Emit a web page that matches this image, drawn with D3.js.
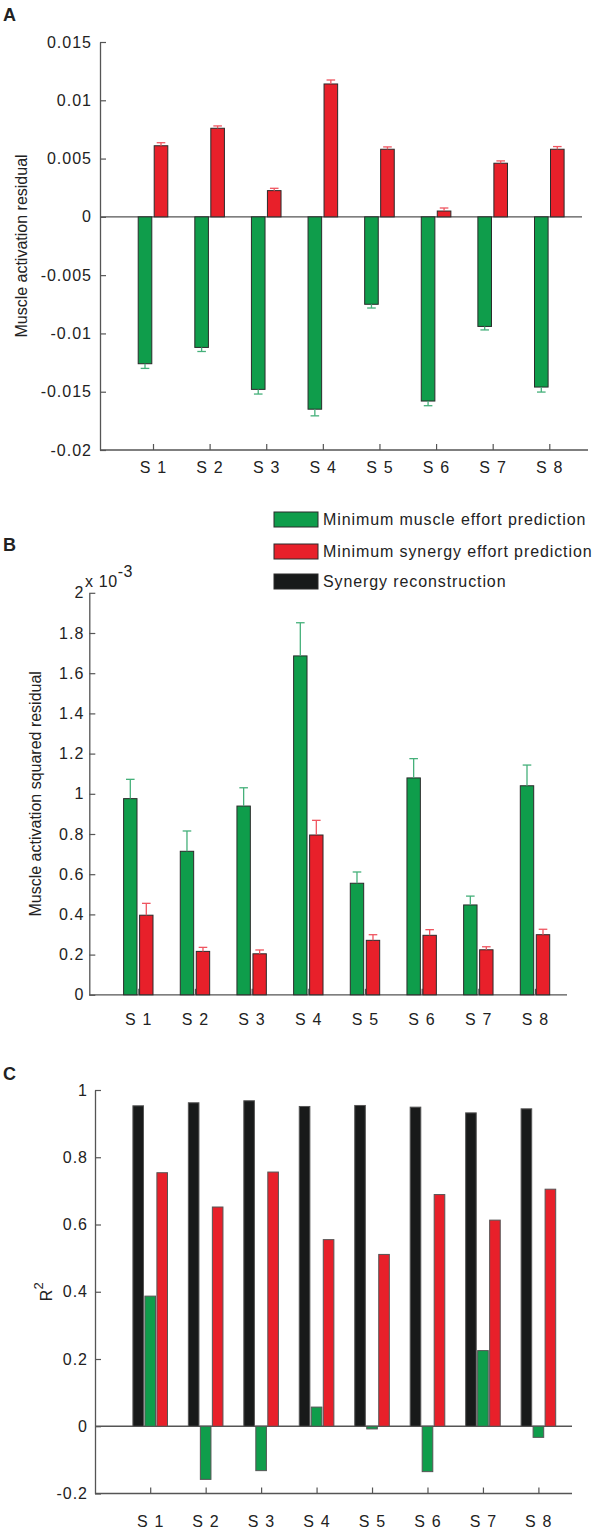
<!DOCTYPE html>
<html><head><meta charset="utf-8">
<script src="https://cdn.jsdelivr.net/npm/d3@7"></script>
<style>
body{margin:0;background:#fff}
svg{display:block}
text{font-family:Arial,"Liberation Sans",Helvetica,sans-serif;fill:#222}
</style>
</head><body>
<svg id="chart" width="596" height="1534"></svg>
<script>
// ---------- data ----------
const categories = ["S 1","S 2","S 3","S 4","S 5","S 6","S 7","S 8"];

// Panel A: muscle activation residual
const residualMuscle     = [-0.0126, -0.0112, -0.0148, -0.0165, -0.0075, -0.0158, -0.0094, -0.0146];
const residualMuscleErr  = [0.0004, 0.00035, 0.0004, 0.00057, 0.00032, 0.0004, 0.0003, 0.00043];
const residualSynergy    = [0.0061, 0.0076, 0.00225, 0.0114, 0.0058, 0.0005, 0.0046, 0.0058];
const residualSynergyErr = [0.00026, 0.0002, 0.0002, 0.00034, 0.0002, 0.00026, 0.0002, 0.00023];
const ticksA      = [-0.02, -0.015, -0.01, -0.005, 0, 0.005, 0.01, 0.015];
const tickLabelsA = ["-0.02","-0.015","-0.01","-0.005","0","0.005","0.01","0.015"];

// Panel B: muscle activation squared residual (units of 10^-3)
const sqMuscle     = [0.976, 0.714, 0.939, 1.686, 0.555, 1.079, 0.447, 1.040];
const sqMuscleErr  = [0.096, 0.101, 0.091, 0.165, 0.056, 0.096, 0.044, 0.103];
const sqSynergy    = [0.396, 0.216, 0.204, 0.795, 0.271, 0.296, 0.224, 0.299];
const sqSynergyErr = [0.059, 0.020, 0.019, 0.073, 0.028, 0.028, 0.015, 0.027];
const ticksB      = [0, 0.2, 0.4, 0.6, 0.8, 1, 1.2, 1.4, 1.6, 1.8, 2];
const tickLabelsB = ["0","0.2","0.4","0.6","0.8","1","1.2","1.4","1.6","1.8","2"];

// Panel C: R^2
const r2Reconstruction = [0.953, 0.962, 0.968, 0.951, 0.954, 0.949, 0.932, 0.944];
const r2Muscle         = [0.387, -0.158, -0.132, 0.057, -0.008, -0.135, 0.225, -0.033];
const r2Synergy        = [0.754, 0.652, 0.756, 0.555, 0.511, 0.689, 0.613, 0.705];
const ticksC      = [-0.2, 0, 0.2, 0.4, 0.6, 0.8, 1];
const tickLabelsC = ["-0.2","0","0.2","0.4","0.6","0.8","1"];

const legendLabels = ["Minimum muscle effort prediction","Minimum synergy effort prediction","Synergy reconstruction"];

// ---------- styles ----------
const GREEN = "#0f9d4b", RED = "#e8202a", BLACK = "#181a1a";
const GREEN_ERR = "#45b07a", RED_ERR = "#ef5560";
const AXIS = "#555";
const FONT = "Arial, 'Liberation Sans', sans-serif";
const svg = d3.select("#chart");

function panel(o) {
  const g = svg.append("g");
  const y = d3.scaleLinear().domain(o.yDomain).range([o.yBottom, o.yTop]);
  const x = d3.scalePoint().domain(categories).range([o.xFirst, o.xLast]);

  // bottom axis ticks (inward)
  const xa = g.append("g").attr("transform", `translate(0,${o.yBottom})`)
    .call(d3.axisBottom(x).tickSize(-6).tickPadding(o.xPad));
  xa.select(".domain").remove();
  xa.selectAll("line").attr("stroke", AXIS).attr("stroke-width", 1.2);
  xa.selectAll("text").attr("font-size", 16).attr("fill", "#222")
    .attr("letter-spacing", 1.2).style("font-family", FONT);
  g.append("line").attr("x1", o.x0).attr("x2", o.x1)
    .attr("y1", o.yBottom).attr("y2", o.yBottom)
    .attr("stroke", AXIS).attr("stroke-width", 1.3);

  // left axis
  const ya = g.append("g").attr("transform", `translate(${o.x0},0)`)
    .call(d3.axisLeft(y).tickValues(o.ticks).tickFormat((d, i) => o.tickLabels[i])
      .tickSize(-6).tickSizeOuter(0).tickPadding(o.yPad));
  ya.select(".domain").attr("stroke", AXIS).attr("stroke-width", 1.3);
  ya.selectAll("line").attr("stroke", AXIS).attr("stroke-width", 1.2);
  ya.selectAll("text").attr("font-size", 16).attr("fill", "#222")
    .attr("letter-spacing", 1).style("font-family", FONT);

  // zero baseline
  if (o.zeroLine) {
    g.append("line").attr("x1", o.x0).attr("x2", o.zeroEnd)
      .attr("y1", y(0)).attr("y2", y(0)).attr("stroke", AXIS).attr("stroke-width", 1.3);
  }

  // bars
  o.series.forEach(s => {
    const sg = g.append("g");
    sg.selectAll("rect").data(s.values).join("rect")
      .attr("x", (d, i) => x(categories[i]) + s.offset - o.barW / 2)
      .attr("width", o.barW)
      .attr("y", d => Math.min(y(d), y(0)))
      .attr("height", d => Math.abs(y(d) - y(0)))
      .attr("fill", s.color).attr("stroke", o.barStroke).attr("stroke-width", 1);
    if (s.err) {
      s.values.forEach((v, i) => {
        const cx = x(categories[i]) + s.offset;
        const end = v >= 0 ? v + s.err[i] : v - s.err[i];
        sg.append("line").attr("x1", cx).attr("x2", cx).attr("y1", y(v)).attr("y2", y(end))
          .attr("stroke", s.errColor).attr("stroke-width", 1.3);
        sg.append("line").attr("x1", cx - 4.3).attr("x2", cx + 4.3).attr("y1", y(end)).attr("y2", y(end))
          .attr("stroke", s.errColor).attr("stroke-width", 1.3);
      });
    }
  });

  // y label
  const lab = g.append("text")
    .attr("transform", `translate(${o.labelX},${(o.yTop + o.yBottom) / 2}) rotate(-90)`)
    .attr("text-anchor", "middle").attr("font-size", 16);
  if (o.label === "R2") {
    lab.append("tspan").text("R");
    lab.append("tspan").attr("dy", -9).attr("font-size", 13).text("2");
  } else lab.text(o.label);

  // panel letter
  svg.append("text").attr("x", 3).attr("y", o.letterY).attr("font-size", 18)
    .attr("font-weight", "bold").attr("fill", "#111").text(o.letter);
  return {x, y, g};
}

// Panel A
panel({
  letter: "A", letterY: 21,
  x0: 100, x1: 588, xFirst: 153, xLast: 549.3,
  yTop: 42, yBottom: 450, yDomain: [-0.02, 0.015],
  ticks: ticksA, tickLabels: tickLabelsA, xPad: 12, yPad: 8,
  zeroLine: true, zeroEnd: 582, barW: 13.6, barStroke: "#2b2b2b",
  label: "Muscle activation residual", labelX: 27,
  series: [
    {values: residualMuscle, err: residualMuscleErr, color: GREEN, errColor: GREEN_ERR, offset: -8},
    {values: residualSynergy, err: residualSynergyErr, color: RED, errColor: RED_ERR, offset: 8}
  ]
});

// Panel B
panel({
  letter: "B", letterY: 551,
  x0: 89.3, x1: 567, xFirst: 138.3, xLast: 535,
  yTop: 592.8, yBottom: 994.8, yDomain: [0, 2],
  ticks: ticksB, tickLabels: tickLabelsB, xPad: 19, yPad: 5,
  zeroLine: false, barW: 13.4, barStroke: "#2b2b2b",
  label: "Muscle activation squared residual", labelX: 41,
  series: [
    {values: sqMuscle, err: sqMuscleErr, color: GREEN, errColor: GREEN_ERR, offset: -8},
    {values: sqSynergy, err: sqSynergyErr, color: RED, errColor: RED_ERR, offset: 8}
  ]
});
// exponent
const ex = svg.append("text").attr("x", 85).attr("y", 587).attr("font-size", 16).attr("letter-spacing", 0.6);
ex.append("tspan").text("x 10");
ex.append("tspan").attr("dy", -10).text("-3");

// Panel C
panel({
  letter: "C", letterY: 1080,
  x0: 95, x1: 572, xFirst: 150.2, xLast: 538.4,
  yTop: 1090, yBottom: 1493.5, yDomain: [-0.2, 1],
  ticks: ticksC, tickLabels: tickLabelsC, xPad: 22, yPad: 7,
  zeroLine: true, zeroEnd: 572, barW: 10.6, barStroke: "#555",
  label: "R2", labelX: 52,
  series: [
    {values: r2Reconstruction, color: BLACK, offset: -12},
    {values: r2Muscle, color: GREEN, offset: 0},
    {values: r2Synergy, color: RED, offset: 12}
  ]
});

// Legend
const legColors = [GREEN, RED, BLACK];
const leg = svg.append("g");
const legY = [512, 544, 574];
legendLabels.forEach((t, i) => {
  leg.append("rect").attr("x", 274).attr("y", legY[i]).attr("width", 44).attr("height", 15)
    .attr("fill", legColors[i]).attr("stroke", "#2b2b2b").attr("stroke-width", 1);
  leg.append("text").attr("x", 323).attr("y", legY[i] + 13).attr("font-size", 16)
    .attr("letter-spacing", 0.9).text(t);
});
</script>
</body></html>
